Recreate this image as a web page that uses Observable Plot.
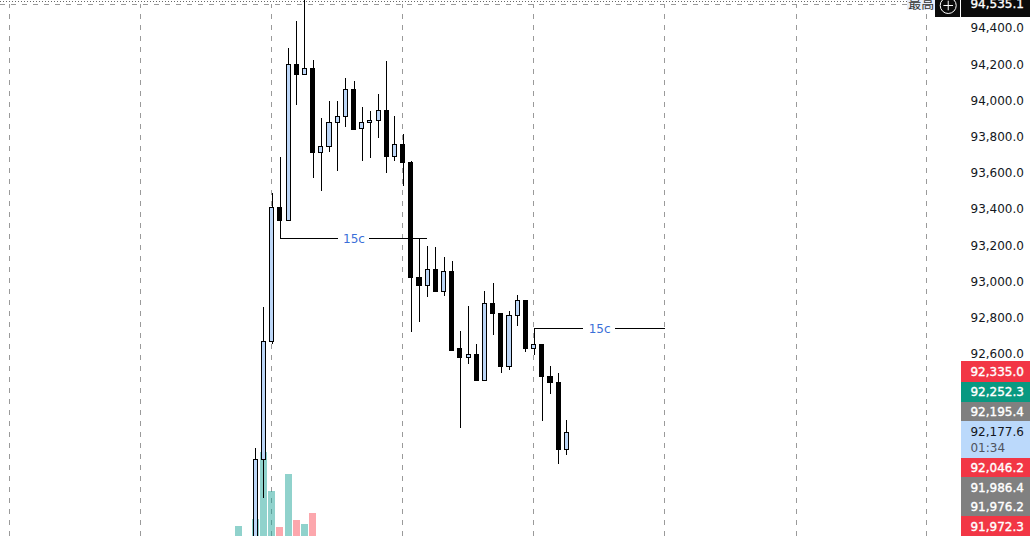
<!DOCTYPE html>
<html>
<head>
<meta charset="utf-8">
<style>
html,body{margin:0;padding:0;background:#fff;overflow:hidden}
svg{display:block}
</style>
<script src="https://cdn.jsdelivr.net/npm/d3@7"></script>
<script src="https://cdn.jsdelivr.net/npm/@observablehq/plot@0.6"></script>
</head>
<body>
<div id="chart"></div>
<script>
// Candles: bar index 0..38
const opens  = [91463,92019,92668,93410,93336,94198,94143,94176,93712,93747,93879,93913,94062,93844,93877,93890,93946,93692,93758,93656,93021,92977,93068,92944,93057,92628,92580,92595,92453,92880,92823,92530,92815,92897,92629,92654,92475,92442,92072];
const closes = [92019,92668,93410,93336,94198,94143,94176,93712,93747,93879,93913,94062,93842,93879,93890,93946,93692,93758,93656,93021,92977,93068,92944,93057,92622,92578,92595,92453,92880,92823,92530,92815,92897,92628,92654,92475,92442,92070,92168];
const highs  = [92079,92861,93487,93689,94290,94439,94554,94223,93903,93997,93997,94122,94107,93962,93940,94036,94218,93913,93813,93663,93239,93196,93189,93134,93114,92727,92865,92655,92948,92992,92826,92837,92926,92898,92742,92655,92534,92495,92236];
const lows   = [91400,91807,92655,93239,93336,93975,94143,93573,93502,93717,93610,93855,93839,93667,93684,93794,93601,93667,93529,92723,92778,92916,92944,92922,92618,92193,92545,92453,92453,92707,92497,92513,92756,92613,92596,92230,92381,91993,92042];

// Volume (visible tail of the lower pane)
const volumeBars = [-2,0,1,2,3,4,5,6,7];
const volumes    = [10,17,84,45,9,62,16,12,23];
const volumeUp   = [true,true,true,true,false,true,false,true,false];

// Axis
const priceTicks = [92600,92800,93000,93200,93400,93600,93800,94000,94200,94400];
const gridBars = [-30.05,-14.05,1.95,17.95,33.93,49.9,66.1,82];
const highPrice = 94535.1;

// Bar-count rulers
const rulerFrom  = [3,34];
const rulerTo    = [21,50];
const rulerPrice = [93239,92742];
const rulerLabel = ["15c","15c"];

// Price tags on the right
const tagLabels = ["92,335.0","92,252.3","92,195.4","92,177.6","92,046.2","91,986.4","91,976.2","91,972.3"];
const tagFills  = ["#f23645","#089981","#808080","#bbd9fb","#f23645","#808080","#808080","#f23645"];
const tagText   = ["#fff","#fff","#fff","#131722","#fff","#fff","#fff","#fff"];
const tagSpans  = [1.08,1,1,1.88,1,1,1,1];
const countdown = "01:34";

// Layout
const font = "'DejaVu Sans', sans-serif";
const yDomain = [91595.1, 94554.6];
const xDomain = [-31.195, 86.1];
const pricePerPx = 5.5215;
const tagLeft = 86.22, tagRight = 94.7;
const slot = 19.5 * pricePerPx;
const crisp = {shapeRendering:"crispEdges"};

const candles = opens.map((o,i)=>({i,o,c:closes[i],h:highs[i],l:lows[i],up:closes[i]>=o}));
const vols = volumeBars.map((i,k)=>({i,v:yDomain[0]+volumes[k]*pricePerPx,up:volumeUp[k]}));

const rulers = rulerFrom.map((from,k)=>({from,to:rulerTo[k],price:rulerPrice[k],label:rulerLabel[k],mid:k===0?12:42}));
const rulerSegs = rulers.flatMap(r=>[{a:r.from,b:r.mid-1.95,price:r.price},{a:r.mid+1.95,b:r.to,price:r.price}]);

let bottom = yDomain[0];
const tags = [];
for (let k=tagLabels.length-1;k>=0;k--){
  const top = bottom + tagSpans[k]*slot;
  tags.unshift({label:tagLabels[k],fill:tagFills[k],color:tagText[k],y1:bottom,y2:top,live:tagLabels[k]==="92,177.6"});
  bottom = top;
}
const fmt = d3.format(",.1f");
const heavy = {strokeWidth:0.35, fontSize:12, textAnchor:"start"};

const plot = Plot.plot({
  width:1030, height:536,
  marginLeft:0, marginRight:70, marginTop:0, marginBottom:0,
  style:{fontFamily:font, background:"#fff", overflow:"hidden"},
  x:{domain:xDomain, range:[0,960], axis:null},
  y:{domain:yDomain, range:[536,0], axis:null},
  marks:[
    // top dotted edge and high-price line
    Plot.ruleY([yDomain[1]-3],{x1:xDomain[0],x2:82.2,stroke:"#666",strokeDasharray:"1,2",strokeWidth:1,...crisp}),
    Plot.ruleY([highPrice],{x1:xDomain[0],x2:79.6,stroke:"#9a9a9a",strokeDasharray:"5,6",strokeWidth:1,...crisp}),
    // vertical grid
    Plot.ruleX(gridBars,{y1:yDomain[0],y2:highPrice,stroke:"#9a9a9a",strokeDasharray:"5,6",strokeWidth:1,...crisp}),
    // volume
    Plot.rect(vols,{x1:d=>d.i-0.43,x2:d=>d.i+0.43,y1:yDomain[0],y2:"v",fill:d=>d.up?"#22a699":"#f9505c",fillOpacity:0.5,...crisp}),
    // wicks
    Plot.ruleX(candles,{x:"i",y1:"l",y2:"h",stroke:"#000",strokeWidth:1,...crisp}),
    // bodies
    Plot.rect(candles,{x1:d=>d.i-0.25,x2:d=>d.i+0.25,y1:"o",y2:"c",fill:d=>d.up?"#bcd6f7":"#000",stroke:"#000",strokeWidth:1,...crisp}),
    // rulers
    Plot.ruleY(rulerSegs,{x1:"a",x2:"b",y:"price",stroke:"#000",strokeWidth:1,...crisp}),
    Plot.text(rulers,{x:"mid",y:"price",text:"label",fill:"#3a6fd8",fontSize:12,textAnchor:"middle"}),
    // price axis
    Plot.axisY(priceTicks,{anchor:"right",tickSize:0,tickPadding:10,tickFormat:fmt,label:null,fontSize:12,color:"#131722",fill:"#131722"}),
    // price tags
    Plot.rect(tags,{x1:tagLeft,x2:tagRight,y1:"y1",y2:"y2",fill:"fill",...crisp}),
    Plot.text(tags.filter(d=>!d.live),{x:tagLeft+1.1,y:d=>(d.y1+d.y2)/2,text:"label",fill:"color",stroke:"color",...heavy}),
    Plot.text(tags.filter(d=>d.live),{x:tagLeft+1.1,y:d=>d.y2-10.5*pricePerPx,text:"label",fill:"color",textAnchor:"start",fontSize:12}),
    Plot.text(tags.filter(d=>d.live),{x:tagLeft+1.1,y:d=>d.y1+10.5*pricePerPx,text:[countdown],fill:"#50535e",textAnchor:"start",fontSize:12}),
    // top-right high label and button
    Plot.rect([0],{x1:79.6,x2:83,y1:yDomain[1]-10*pricePerPx,y2:yDomain[1],fill:"#e8eefb",...crisp}),
    Plot.text(["最高"],{x:81.3,y:yDomain[1]-3*pricePerPx,fill:"#333",fontSize:13,fontFamily:"'Noto Sans CJK SC'",textAnchor:"middle"}),
    Plot.rect([0],{x1:83.05,x2:86.1,y1:yDomain[1]-16.5*pricePerPx,y2:yDomain[1],fill:"#0b0b0b",...crisp}),
    Plot.rect([0],{x1:tagLeft,x2:tagRight,y1:yDomain[1]-16.5*pricePerPx,y2:yDomain[1],fill:"#0b0b0b",...crisp}),
    Plot.dot([0],{x:84.6,y:yDomain[1]-5*pricePerPx,r:8,stroke:"#fff",fill:"none",strokeWidth:1}),
    Plot.dot([0],{x:84.6,y:yDomain[1]-5*pricePerPx,r:3.2,symbol:"plus",stroke:"#fff",strokeWidth:1}),
    Plot.text([fmt(highPrice)],{x:tagLeft+1.1,y:highPrice,fill:"#fff",stroke:"#fff",...heavy})
  ]
});
document.getElementById("chart").append(plot);
</script>
</body>
</html>
